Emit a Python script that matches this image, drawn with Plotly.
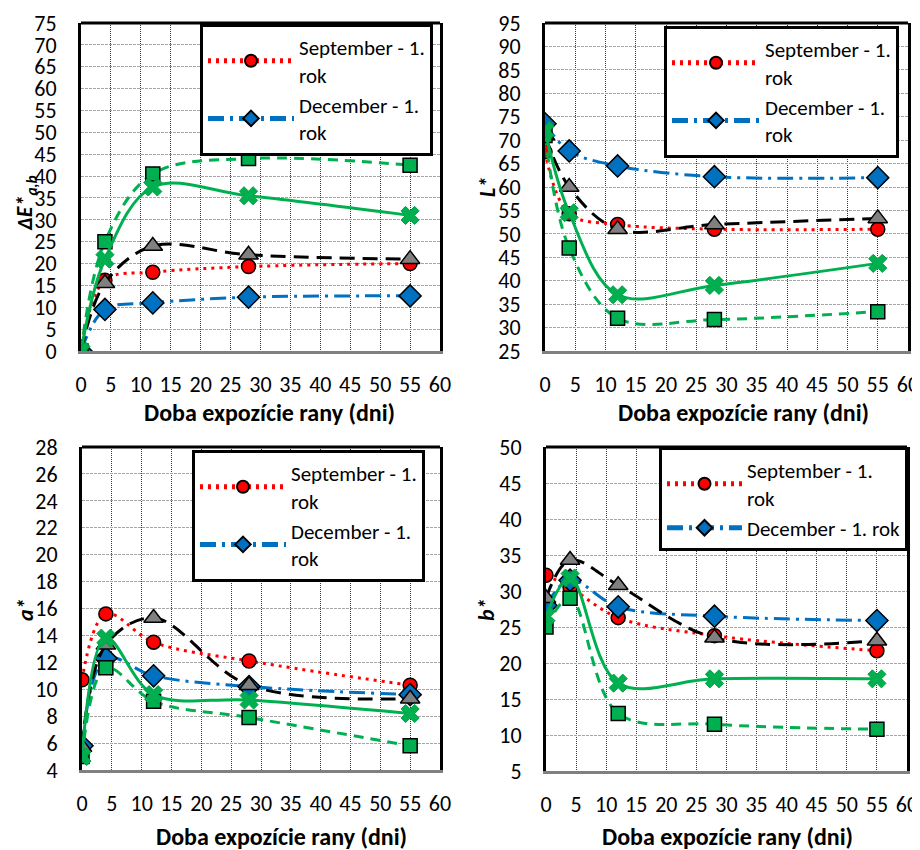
import plotly.graph_objects as go

# ---------------- data ----------------
days = [0, 4, 12, 28, 55]

# panel 1: Delta E*
dE_sep = [0, 16.2, 18.0, 19.3, 20.0]
dE_dec = [0, 9.5, 11.0, 12.3, 12.6]
dE_tri = [0, 15.5, 24.0, 22.0, 21.0]
dE_sq = [0, 25.0, 40.5, 44.0, 42.5]
dE_x = [0, 21.0, 37.5, 35.5, 31.0]

# panel 2: L*
L_sep = [67.5, 54.3, 52.0, 51.0, 51.0]
L_dec = [73.5, 67.7, 64.5, 62.2, 62.0]
L_tri = [71.0, 60.0, 51.0, 52.0, 53.3]
L_sq = [71.0, 47.0, 32.0, 31.7, 33.4]
L_x = [72.0, 54.5, 37.0, 39.0, 43.7]

# panel 3: a*
a_sep = [10.7, 15.6, 13.5, 12.1, 10.3]
a_dec = [5.8, 12.3, 11.0, 10.2, 9.6]
a_tri = [5.7, 13.3, 15.3, 10.3, 9.3]
a_sq = [5.0, 11.6, 9.1, 7.9, 5.8]
a_x = [5.0, 13.8, 9.6, 9.2, 8.2]

# panel 4: b*
b_sep = [32.2, 30.5, 26.3, 23.8, 21.7]
b_dec = [28.0, 31.5, 27.8, 26.5, 25.9]
b_tri = [29.0, 34.3, 30.8, 23.5, 23.1]
b_sq = [25.0, 29.0, 13.0, 11.5, 10.8]
b_x = [26.5, 31.8, 17.2, 17.8, 17.8]

name_sep = ["September - 1.<br>rok"] * 4
name_dec = ["December - 1.<br>rok"] * 3 + ["December - 1. rok"]

y_titles = ["<b><i>ΔE*<sub>a,b</sub></i></b>", "<b><i>L*</i></b>",
            "<b><i>a*</i></b>", "<b><i>b*</i></b>"]
y_ranges = [(0, 75, 5), (25, 95, 5), (4, 28, 2), (5, 50, 5)]
x_title = "<b>Doba expozície rany (dni)</b>"

panels = [
    (dE_sep, dE_dec, dE_tri, dE_sq, dE_x),
    (L_sep, L_dec, L_tri, L_sq, L_x),
    (a_sep, a_dec, a_tri, a_sq, a_x),
    (b_sep, b_dec, b_tri, b_sq, b_x),
]

# ---------------- layout geometry (px in the 920x850 window) ----------------
OFF = 8  # page body margin
W, H = 920 - OFF, 850 - OFF
boxes = [  # left, right, top, bottom
    (81, 440, 23, 351),
    (545, 908, 23, 351),
    (82, 440, 447, 770),
    (546, 907, 447, 771),
]
legend_pos = [(200, 24), (664, 26), (192, 450), (659, 447)]
legend_itemw = [86, 88, 86, 75]
ytitle_pos = [(26, 203), (488, 187), (25, 610), (486, 610)]
xtitle_pos = [(269, 413), (743, 413), (281, 836), (727, 836)]


def px(xp, yp):
    return (xp - OFF) / W, 1 - (yp - OFF) / H


FONT = "Carlito, Calibri, Lato, sans-serif"
RED = "#FF0000"
BLUE = "#0070C0"
GRAY = "#808080"
GREEN = "#00B050"

fig = go.Figure()
layout = dict(width=W, height=H, margin=dict(l=0, r=0, t=0, b=0),
              paper_bgcolor="white", plot_bgcolor="white",
              font=dict(family=FONT, size=20, color="black"),
              shapes=[], annotations=[])

for i, (sep, dec, tri, sq, xs) in enumerate(panels):
    n = "" if i == 0 else str(i + 1)
    xa, ya = "x" + n, "y" + n
    lg = "legend" + n
    common = dict(x=days, xaxis=xa, yaxis=ya, mode="lines+markers",
                  line_shape="spline")
    fig.add_trace(go.Scatter(
        **common, y=sep, name=name_sep[i], legend=lg, showlegend=True,
        line=dict(color=RED, width=3, dash="3px,5px", smoothing=1),
        marker=dict(symbol="circle", size=14, color=RED,
                    line=dict(color="black", width=1.5))))
    fig.add_trace(go.Scatter(
        **common, y=dec, name=name_dec[i], legend=lg, showlegend=True,
        line=dict(color=BLUE, width=3, dash="16px,6px,3px,6px", smoothing=1),
        marker=dict(symbol="diamond", size=17, color=BLUE,
                    line=dict(color="black", width=1.5))))
    fig.add_trace(go.Scatter(
        **common, y=tri, showlegend=False,
        line=dict(color="black", width=3, dash="15px,8px", smoothing=1),
        marker=dict(symbol="triangle-up", size=17, color=GRAY,
                    line=dict(color="black", width=1.5))))
    fig.add_trace(go.Scatter(
        **common, y=sq, showlegend=False,
        line=dict(color=GREEN, width=3, dash="10px,7px", smoothing=1),
        marker=dict(symbol="square", size=14, color=GREEN,
                    line=dict(color="black", width=1.5))))
    fig.add_trace(go.Scatter(
        **common, y=xs, showlegend=False,
        line=dict(color=GREEN, width=3, smoothing=1),
        marker=dict(symbol="x", size=16, color=GREEN,
                    line=dict(color="#00A040", width=1))))

    l, r, t, b = boxes[i]
    xl, yb = px(l, b)
    xr, yt = px(r, t)
    y0, y1, dy = y_ranges[i]
    layout["xaxis" + n] = dict(
        domain=[xl, xr], anchor=ya, range=[0, 60], dtick=5, tick0=0,
        showgrid=True, gridcolor="#3a3a3a", griddash="1px,1px", gridwidth=1,
        showline=True, linecolor=GRAY, linewidth=3, mirror=False,
        zeroline=False, ticks="", ticklabelstandoff=12, automargin=False,
        tickfont=dict(size=22, family=FONT))
    layout["yaxis" + n] = dict(
        domain=[yb, yt], anchor=xa, range=[y0, y1], dtick=dy,
        tick0=y0, showgrid=True, gridcolor="#A6A6A6", griddash="3px,1px",
        gridwidth=1, showline=True, linecolor="black", linewidth=3,
        mirror=True, zeroline=False, ticks="", ticklabelstandoff=17,
        automargin=False, tickfont=dict(size=22, family=FONT))
    layout["shapes"].append(dict(
        type="line", xref=xa + " domain", yref=ya + " domain",
        x0=0, x1=1, y0=1, y1=1, line=dict(color="black", width=3)))
    tx, ty = px(*ytitle_pos[i])
    layout["annotations"].append(dict(
        text=y_titles[i], x=tx, y=ty, xref="paper", yref="paper",
        xanchor="center", yanchor="middle", textangle=-90, showarrow=False,
        font=dict(size=22, family=FONT)))
    tx, ty = px(*xtitle_pos[i])
    layout["annotations"].append(dict(
        text=x_title, x=tx, y=ty, xref="paper", yref="paper",
        xanchor="center", yanchor="middle", showarrow=False,
        font=dict(size=24, family=FONT)))
    lx, ly = px(*legend_pos[i])
    layout[lg] = dict(
        x=lx, y=ly, xanchor="left", yanchor="top",
        bgcolor="white", bordercolor="black", borderwidth=3,
        font=dict(size=21, family=FONT), itemwidth=legend_itemw[i],
        itemsizing="constant", tracegroupgap=0)

fig.update_layout(**layout)
fig.write_html("out.html")
